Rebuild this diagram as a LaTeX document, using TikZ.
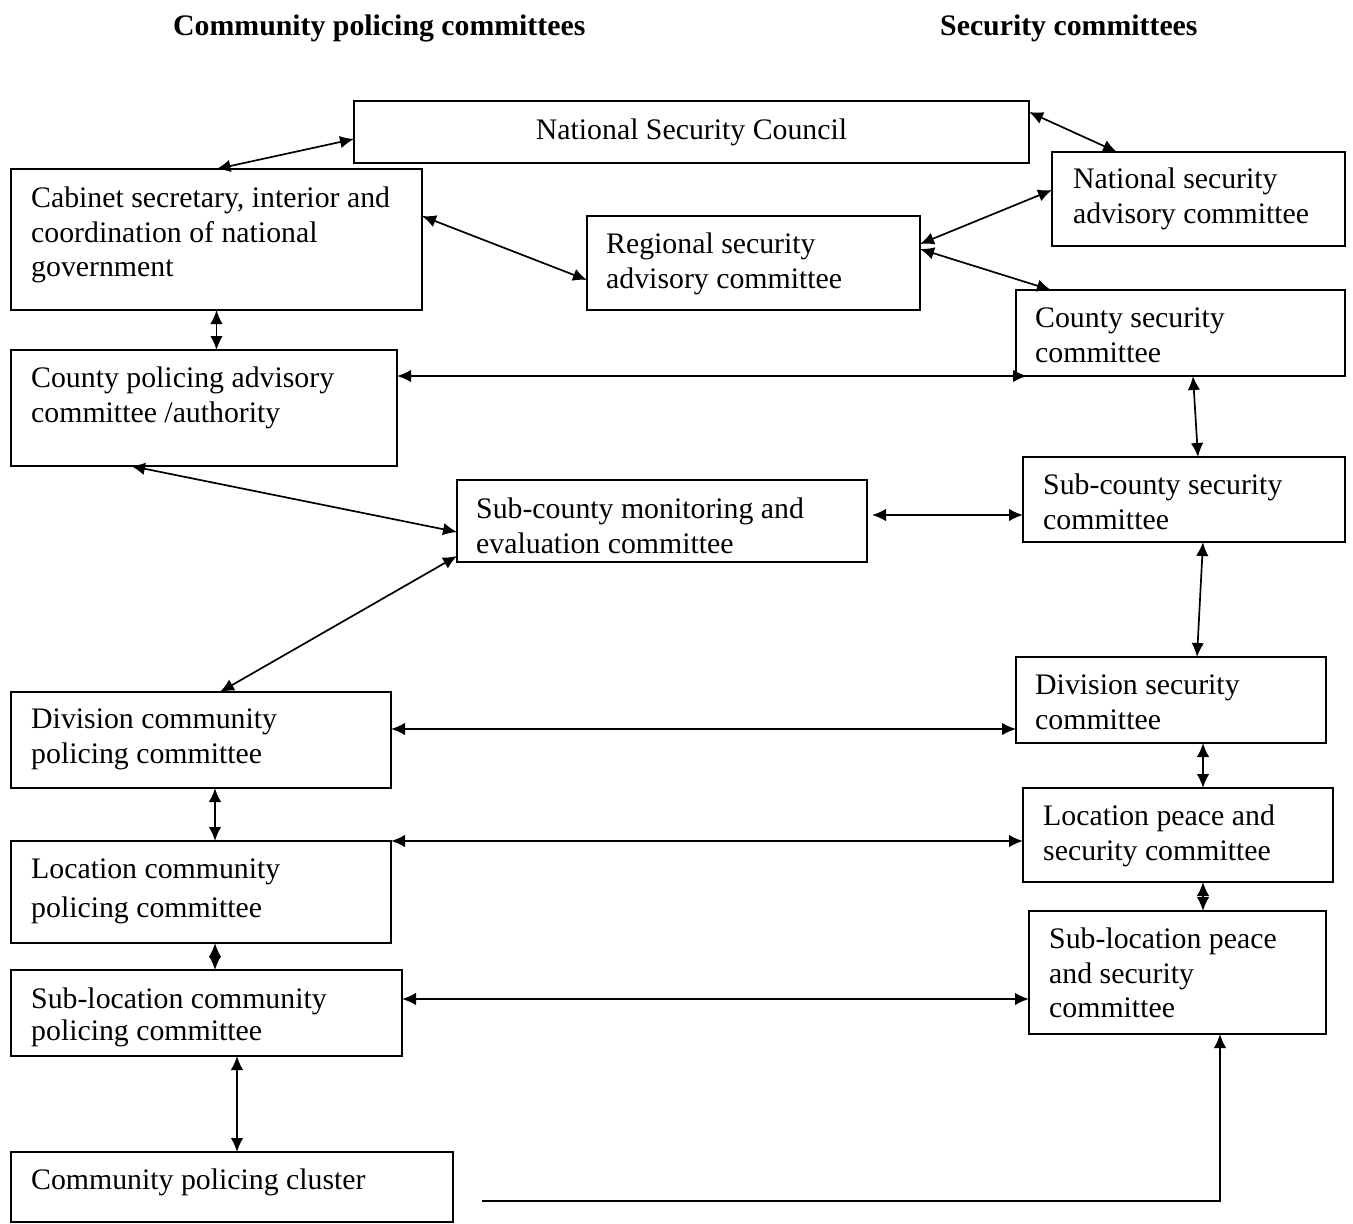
\documentclass[tikz,border=0pt]{standalone}
\usepackage{fontspec}
\setmainfont{Liberation Serif}
\usetikzlibrary{arrows.meta,calc}
\tikzset{
  box/.style={draw, line width=1.8pt, anchor=north west, inner sep=0pt, outer sep=0pt},
  txt/.style={anchor=north west, align=left, inner sep=0pt},
  head/.style={anchor=base west, inner sep=0pt, font=\fontsize{29.8}{34.6}\selectfont\bfseries},
  link/.style={<->, line width=1.7pt}
}
\begin{document}
\begin{tikzpicture}[>={Latex[length=14pt,width=12.5pt]}, x=1pt, y=-1pt, font=\fontsize{29.8}{34.6}\selectfont]
\useasboundingbox (0,0) rectangle (1353,1224);
\node[head] (lefthead) at (173,35) {Community policing committees};
\node[head] (righthead) at (940,35) {Security committees};
% boxes and their texts
\node[box, anchor=center, minimum width=675, minimum height=62] (nsc) at (691.5,132) {National Security Council};
\node[box, minimum width=411, minimum height=141] (cabinet) at (11,169) {};
\node[txt] (cabinet-t) at (31,183) {\strut Cabinet secretary, interior and\\coordination of national\\government};
\node[box, minimum width=333, minimum height=94] (regional) at (587,216) {};
\node[txt] (regional-t) at (606,229) {\strut Regional security\\advisory committee};
\node[box, minimum width=293, minimum height=94] (nsac) at (1052,152) {};
\node[txt] (nsac-t) at (1073,164) {\strut National security\\advisory committee};
\node[box, minimum width=329, minimum height=86] (csec) at (1016,290) {};
\node[txt] (csec-t) at (1035,303) {\strut County security\\committee};
\node[box, minimum width=386, minimum height=116] (cpol) at (11,350) {};
\node[txt] (cpol-t) at (31,363) {\strut County policing advisory\\committee /authority};
\node[box, minimum width=410, minimum height=82] (mne) at (457,480) {};
\node[txt] (mne-t) at (476,494) {\strut Sub-county monitoring and\\evaluation committee};
\node[box, minimum width=322, minimum height=85] (scsec) at (1023,457) {};
\node[txt] (scsec-t) at (1043,470) {\strut Sub-county security\\committee};
\node[box, minimum width=310, minimum height=86] (dsec) at (1016,657) {};
\node[txt] (dsec-t) at (1035,670) {\strut Division security\\committee};
\node[box, minimum width=380, minimum height=96] (dcom) at (11,692) {};
\node[txt] (dcom-t) at (31,704) {\strut Division community\\policing committee};
\node[box, minimum width=310, minimum height=94] (lpeace) at (1023,788) {};
\node[txt] (lpeace-t) at (1043,801) {\strut Location peace and\\security committee};
\node[box, minimum width=380, minimum height=102] (lcom) at (11,841) {};
\node[txt] (lcom-t) at (31,854) {\strut Location community\\[4.4pt]policing committee};
\node[box, minimum width=297, minimum height=123] (slpeace) at (1029,911) {};
\node[txt] (slpeace-t) at (1049,924) {\strut Sub-location peace\\and security\\committee};
\node[box, minimum width=391, minimum height=86] (slcom) at (11,970) {};
\node[txt] (slcom-t) at (31,984) {\strut Sub-location community\\[-2.5pt]policing committee};
\node[box, minimum width=442, minimum height=70] (cluster) at (11,1152) {};
\node[txt] (cluster-t) at (31,1165) {\strut Community policing cluster};
% links
\draw[link] (cabinet.north) -- ($(nsc.west)+(0,7)$);
\draw[link] ($(nsc.north east)+(0,11)$) -- ($(nsac.north west)+(65,0)$);
\draw[link] ($(cabinet.north east)+(0,47)$) -- ($(regional.south west)+(0,-30)$);
\draw[link] ($(regional.north east)+(0,28)$) -- ($(nsac.north west)+(0,38)$);
\draw[link] ($(regional.north east)+(0,33)$) -- ($(csec.north west)+(35,0)$);
\draw[link] (cabinet.south) -- (cabinet.south |- cpol.north);
\draw[link] ($(cpol.north east)+(0,26)$) -- ($(csec.south west)+(11,0)$);
\draw[link] ($(csec.south west)+(177,0)$) -- ($(scsec.north west)+(175,0)$);
\draw[link] ($(cpol.south west)+(120,0)$) -- ($(mne.north west)+(0,52)$);
\draw[link] ($(mne.north east)+(5,35)$) -- ($(scsec.north west)+(0,58)$);
\draw[link] ($(mne.south west)+(0,-6)$) -- ($(dcom.north west)+(209,0)$);
\draw[link] ($(scsec.south west)+(180,0)$) -- ($(dsec.north west)+(181,0)$);
\draw[link] ($(dcom.north east)+(0,37)$) -- ($(dsec.north west)+(0,72)$);
\draw[link] ($(dsec.south west)+(187,0)$) -- ($(lpeace.north west)+(180,0)$);
\draw[link] ($(dcom.south west)+(204,0)$) -- ($(lcom.north west)+(204,0)$);
\draw[link] (lcom.north east) -- ($(lpeace.north west)+(0,53)$);
\draw[link] ($(lpeace.south west)+(180,0)$) -- ($(slpeace.north west)+(174,0)$);
\draw[link] ($(lcom.south west)+(204,0)$) -- ($(slcom.north west)+(204,0)$);
\draw[link] ($(slcom.north east)+(0,29)$) -- ($(slpeace.north west)+(0,88)$);
\draw[link] ($(slcom.south west)+(226,0)$) -- ($(cluster.north west)+(226,0)$);
\coordinate (feed) at (482,1201);
\draw[->, line width=1.7pt] (feed) -| ($(slpeace.south west)+(191,0)$);
\end{tikzpicture}
\end{document}
